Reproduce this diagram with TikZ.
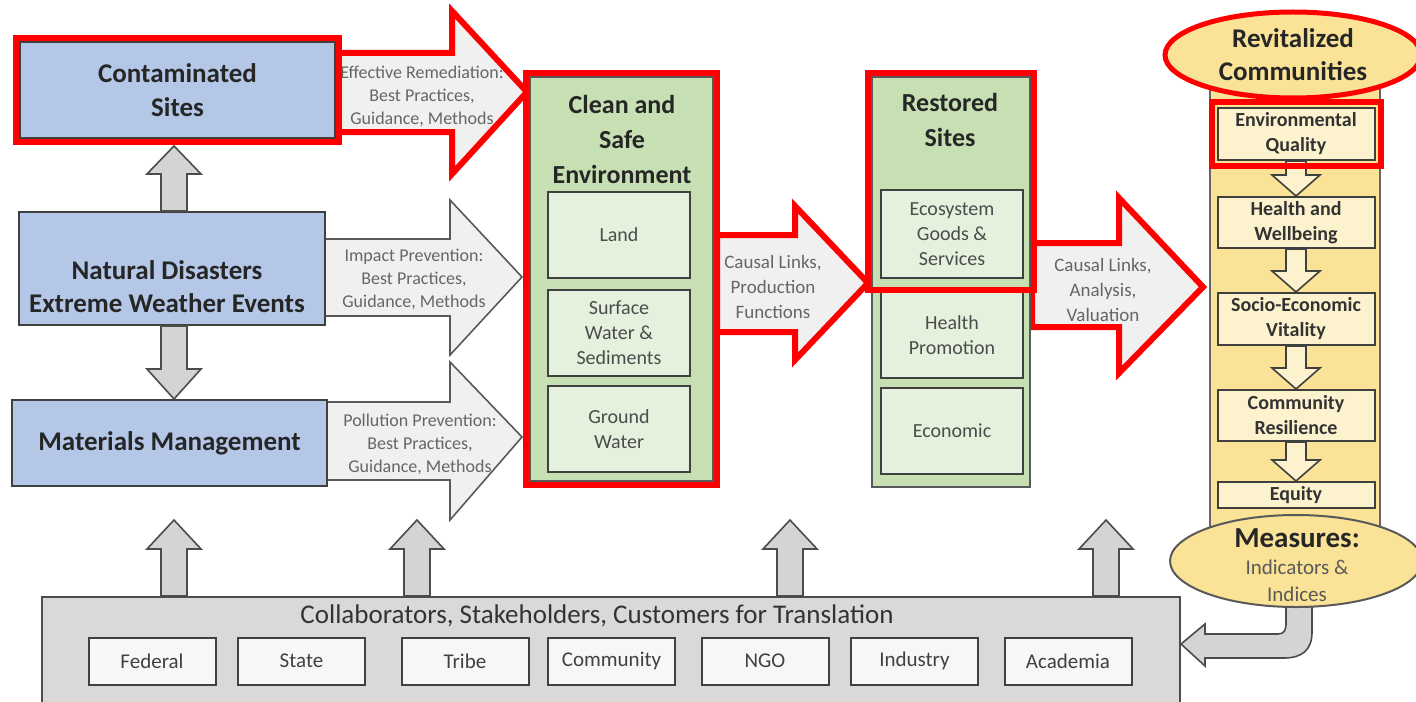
\documentclass[tikz,border=0pt]{standalone}
\usepackage{fontspec}
\setmainfont{Carlito}
\usetikzlibrary{calc,fit,shapes.geometric}

\definecolor{siteblue}{RGB}{180,199,231}
\definecolor{envgreen}{RGB}{198,224,180}
\definecolor{envlight}{RGB}{228,241,220}
\definecolor{commgold}{RGB}{250,226,150}
\definecolor{commlight}{RGB}{253,242,206}
\definecolor{flowgray}{RGB}{240,240,240}
\definecolor{stemgray}{RGB}{212,212,212}
\definecolor{partgray}{RGB}{217,217,217}
\definecolor{hotred}{RGB}{255,0,0}

\tikzset{
  sitebox/.style={draw=black!75, line width=1pt, fill=siteblue, inner sep=0pt, align=center,
    font=\bfseries\fontsize{13.5}{17}\selectfont, text=black!85},
  envbox/.style={draw=black!65, line width=1pt, fill=envgreen, inner sep=0pt},
  envsub/.style={draw=black!75, line width=1pt, fill=envlight, inner sep=0pt,
    minimum width=71pt, minimum height=43pt, align=center,
    font=\fontsize{10}{12.5}\selectfont, text=black!70},
  bigtitle/.style={align=center, font=\bfseries\fontsize{13}{17.5}\selectfont, text=black!85},
  flowtext/.style={align=center, font=\fontsize{9}{11.5}\selectfont, text=black!60},
  flowarrow/.style={draw=black!65, line width=0.8pt, fill=flowgray, line join=miter},
  hlarrow/.style={draw=hotred, line width=3pt, fill=flowgray, line join=miter},
  hl/.style={draw=hotred, line width=3pt, inner sep=1.5pt},
  stem/.style={draw=black!70, line width=0.8pt, fill=stemgray, line join=miter},
  commsub/.style={draw=black!75, line width=1pt, fill=commlight, inner sep=0pt,
    minimum width=78.5pt, align=center, font=\bfseries\fontsize{10}{12.5}\selectfont, text=black!80},
  commarrow/.style={draw=black!75, line width=0.8pt, fill=commlight},
  partbox/.style={draw=black!75, line width=1pt, fill=black!3, inner sep=0pt,
    minimum width=63.5pt, minimum height=23.5pt, font=\fontsize{10.5}{12}\selectfont, text=black!75},
}

\begin{document}
\begin{tikzpicture}[x=0.5pt,y=-0.5pt]
\useasboundingbox (0,0) rectangle (1416,701);

% flow arrows
\filldraw[hlarrow] (338,53) -- (452,53) -- (452,11) -- (527,92) -- (452,174) -- (452,132) -- (338,132) -- cycle;
\node[flowtext] (remedtxt) at (422,96) {Effective Remediation:\\Best Practices,\\Guidance, Methods};
\filldraw[flowarrow] (325,239) -- (450,239) -- (450,200) -- (522,277) -- (450,355) -- (450,316) -- (325,316) -- cycle;
\node[flowtext] (impacttxt) at (414,279) {Impact Prevention:\\Best Practices,\\Guidance, Methods};
\filldraw[flowarrow] (327,402) -- (450,402) -- (450,362) -- (522,437) -- (450,520) -- (450,480) -- (327,480) -- cycle;
\node[flowtext] (pollutxt) at (420,444) {Pollution Prevention:\\Best Practices,\\Guidance, Methods};
\filldraw[hlarrow] (717,235) -- (795,235) -- (795,206) -- (868,283) -- (795,360) -- (795,332) -- (717,332) -- cycle;
\node[flowtext, font=\fontsize{9.5}{12.5}\selectfont] (prodtxt) at (773,287) {Causal Links,\\Production\\Functions};
\filldraw[hlarrow] (1032,243) -- (1119,243) -- (1119,198) -- (1203,287) -- (1119,373) -- (1119,327) -- (1032,327) -- cycle;
\node[flowtext, font=\fontsize{9.5}{12.5}\selectfont] (valtxt) at (1103,290) {Causal Links,\\Analysis,\\Valuation};

% sources
\node[sitebox, minimum width=157.5pt, minimum height=48pt] (contam) at (177.5,90) {Contaminated\\Sites};
\node[sitebox, minimum width=153pt, minimum height=56.5pt] (natural) at (172,268.5) {};
\node[bigtitle, font=\bfseries\fontsize{13.5}{16.5}\selectfont] (naturaltxt) at (167,287) {Natural Disasters\\Extreme Weather Events};
\node[sitebox, minimum width=157.5pt, minimum height=43pt] (materials) at (169.5,443) {Materials Management};

\coordinate (upfoot) at ($(natural.north)+(2,0)$);
\coordinate (uptip) at ($(upfoot |- contam.south)+(0,7)$);
\filldraw[stem] ($(upfoot)+(-13,0)$) -- ($(uptip)+(-13,28)$) -- ($(uptip)+(-27,28)$) -- (uptip) -- ($(uptip)+(27,28)$) -- ($(uptip)+(13,28)$) -- ($(upfoot)+(13,0)$) -- cycle;
\coordinate (downfoot) at ($(natural.south)+(2,0)$);
\coordinate (downtip) at (downfoot |- materials.north);
\filldraw[stem] ($(downfoot)+(-13,0)$) -- ($(downtip)+(-13,-30)$) -- ($(downtip)+(-27,-30)$) -- (downtip) -- ($(downtip)+(27,-30)$) -- ($(downtip)+(13,-30)$) -- ($(downfoot)+(13,0)$) -- cycle;

% environment
\node[envbox, minimum width=91.5pt, minimum height=202pt] (clean) at (621.5,279) {};
\node[bigtitle] (cleantxt) at (622,139) {Clean and\\Safe\\Environment};
\node[envsub] (land) at (619,235) {Land};
\node[envsub] (surface) at (619,333) {Surface\\Water \&\\Sediments};
\node[envsub] (ground) at (619,429) {Ground\\Water};

\node[envbox, minimum width=79pt, minimum height=205pt] (restored) at (951,282) {};
\node[bigtitle] (restoredtxt) at (950,120) {Restored\\Sites};
\node[envsub, minimum height=44pt] (eco) at (952,234) {Ecosystem\\Goods \&\\Services};
\node[envsub] (healthprom) at (952,335) {Health\\Promotion};
\node[envsub] (econ) at (952,431) {Economic};

% communities
\node[draw=black!60, line width=1pt, fill=commgold, minimum width=85pt, minimum height=245pt, inner sep=0pt] (column) at (1295,315) {};
\node[commsub, minimum height=26pt] (envq) at (1296,134) {Environmental\\Quality};
\node[commsub, minimum height=25.5pt] (wellb) at (1296,222.5) {Health and\\Wellbeing};
\node[commsub, minimum height=26pt] (socio) at (1296,319) {Socio-Economic\\Vitality};
\node[commsub, minimum height=25.5pt] (resil) at (1296,415.5) {Community\\Resilience};
\node[commsub, minimum height=13pt] (equity) at (1296,495) {Equity};
\foreach \a/\b in {envq/wellb, wellb/socio, socio/resil, resil/equity}
  \filldraw[commarrow] ($(\a.south)+(-10,0)$) -- ($(\b.north)+(-10,-21)$) -- ($(\b.north)+(-24,-21)$) -- (\b.north) -- ($(\b.north)+(24,-21)$) -- ($(\b.north)+(10,-21)$) -- ($(\a.south)+(10,0)$) -- cycle;

\node[ellipse, draw=hotred, line width=2.5pt, fill=commgold, minimum width=128pt, minimum height=43pt, inner sep=0pt,
  align=center, font=\bfseries\fontsize{13.5}{16.5}\selectfont, text=black!85] (revit) at (1293,55) {Revitalized\\Communities};

\filldraw[stem] (1312,604) -- (1312,632) .. controls (1312,650) and (1302,658) .. (1284,658) -- (1205,658) -- (1205,666) -- (1181,644) -- (1205,624) -- (1205,634) -- (1278,634) .. controls (1284,634) and (1286,630) .. (1286,624) -- (1286,604) -- cycle;
\node[ellipse, draw=black!65, line width=1pt, fill=commgold, minimum width=126pt, minimum height=46pt, inner sep=0pt] (measures) at (1296,561) {};
\node[font=\bfseries\fontsize{14.5}{16}\selectfont, text=black!85] (measurestitle) at (1297,538) {Measures:};
\node[align=center, font=\fontsize{10.5}{13.5}\selectfont, text=black!65] (measurestxt) at (1297,581) {Indicators \&\\Indices};

% collaborators
\node[draw=black!70, line width=1pt, fill=partgray, minimum width=569pt, minimum height=56.5pt, inner sep=0pt] (collab) at (611,653.5) {};
\node[font=\fontsize{13.5}{15}\selectfont, text=black!80] (collabtxt) at (597,616) {Collaborators, Stakeholders, Customers for Translation};
\foreach \x/\nm/\lbl in {152/federal/Federal, 301.5/state/State, 465/tribe/Tribe, 611.5/community/Community, 765/ngo/NGO, 914.5/industry/Industry, 1068/academia/Academia}
  \node[partbox] (\nm) at (\x,661) {\lbl};
\foreach \x [count=\i] in {174,417,790,1106}{
  \coordinate (upbase\i) at (\x,0 |- collab.north);
  \coordinate (uppoint\i) at (\x,520);
  \filldraw[stem] ($(upbase\i)+(-13,0)$) -- ($(uppoint\i)+(-13,29)$) -- ($(uppoint\i)+(-27,29)$) -- (uppoint\i) -- ($(uppoint\i)+(27,29)$) -- ($(uppoint\i)+(13,29)$) -- ($(upbase\i)+(13,0)$) -- cycle;
}

% highlights
\node[hl, fit=(contam)] (contamhl) {};
\node[hl, fit=(clean)] (cleanhl) {};
\node[hl, fit={(restored.north west) ($(eco.south -| restored.east)+(0,8)$)}] (restoredhl) {};
\node[hl, inner sep=2.5pt, fit=(envq)] (envqhl) {};
\end{tikzpicture}
\end{document}
